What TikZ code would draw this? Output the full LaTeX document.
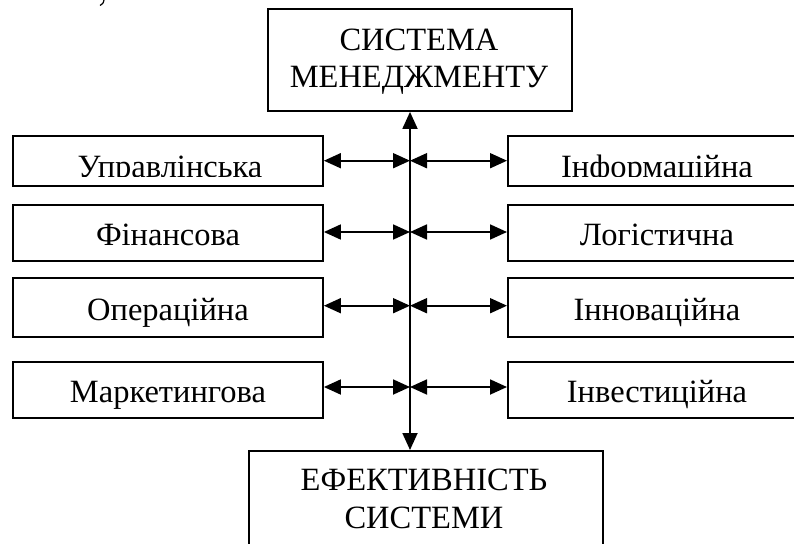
\documentclass[tikz,border=0pt]{standalone}
\usepackage{fontspec}
\setmainfont{Liberation Serif}
\usetikzlibrary{arrows.meta}
\tikzset{
  box/.style={draw=black, line width=1.8pt, rectangle, inner sep=0pt},
  lbl/.style={anchor=base, inner sep=0pt, font=\fontsize{32.5}{40}\selectfont},
  conn/.style={line width=1.8pt, {Triangle[length=17pt,width=15pt]}-{Triangle[length=17pt,width=15pt]}}
}
\begin{document}
\begin{tikzpicture}[x=1pt,y=-1pt]
\useasboundingbox (0,0) rectangle (794,543);
% boxes
\node[box, minimum width=304pt, minimum height=102pt] (top) at (420,60) {};
\node[box, minimum width=354pt, minimum height=120pt, anchor=north west] (bot) at (248,450) {};
\node[box, minimum width=310pt, minimum height=50pt] (L1) at (168,161) {};
\node[box, minimum width=310pt, minimum height=56pt] (L2) at (168,233) {};
\node[box, minimum width=310pt, minimum height=59pt] (L3) at (168,307.5) {};
\node[box, minimum width=310pt, minimum height=56pt] (L4) at (168,390) {};
\node[box, minimum width=300pt, minimum height=50pt, anchor=west] (R1) at (507,161) {};
\node[box, minimum width=300pt, minimum height=56pt, anchor=west] (R2) at (507,233) {};
\node[box, minimum width=300pt, minimum height=59pt, anchor=west] (R3) at (507,307.5) {};
\node[box, minimum width=300pt, minimum height=56pt, anchor=west] (R4) at (507,390) {};
% texts
\node[lbl] (t1) at (419,50) {СИСТЕМА};
\node[lbl] (t2) at (419,87) {МЕНЕДЖМЕНТУ};
\node[lbl] (b1) at (424,490) {ЕФЕКТИВНІСТЬ};
\node[lbl] (b2) at (424,528) {СИСТЕМИ};
\begin{scope}
\clip (0,130) rectangle (794,176);
\node[lbl] (l1) at (170,177) {Управлінська};
\node[lbl] (r1) at (657,177) {Інформаційна};
\end{scope}
\node[lbl] (l2) at (168,245) {Фінансова};
\node[lbl] (l3) at (168,320) {Операційна};
\node[lbl] (l4) at (168,402) {Маркетингова};
\node[lbl] (r2) at (657,245) {Логістична};
\node[lbl] (r3) at (657,320) {Інноваційна};
\node[lbl] (r4) at (657,402) {Інвестиційна};
\draw[line width=1.2pt] (104,0) .. controls (103.5,3) .. (100,5.5);
% spine
\coordinate (sp0) at (410,0);
\coordinate (sp1) at (410,160.7);
\coordinate (sp2) at (410,232);
\coordinate (sp3) at (410,305.7);
\coordinate (sp4) at (410,387);
\draw[conn] (sp0 |- top.south) -- (sp0 |- bot.north);
\foreach \i in {1,2,3,4}{
  \draw[conn] (L\i.east |- sp\i) -- (sp\i);
  \draw[conn] (sp\i) -- (R\i.west |- sp\i);
}
\end{tikzpicture}
\end{document}
